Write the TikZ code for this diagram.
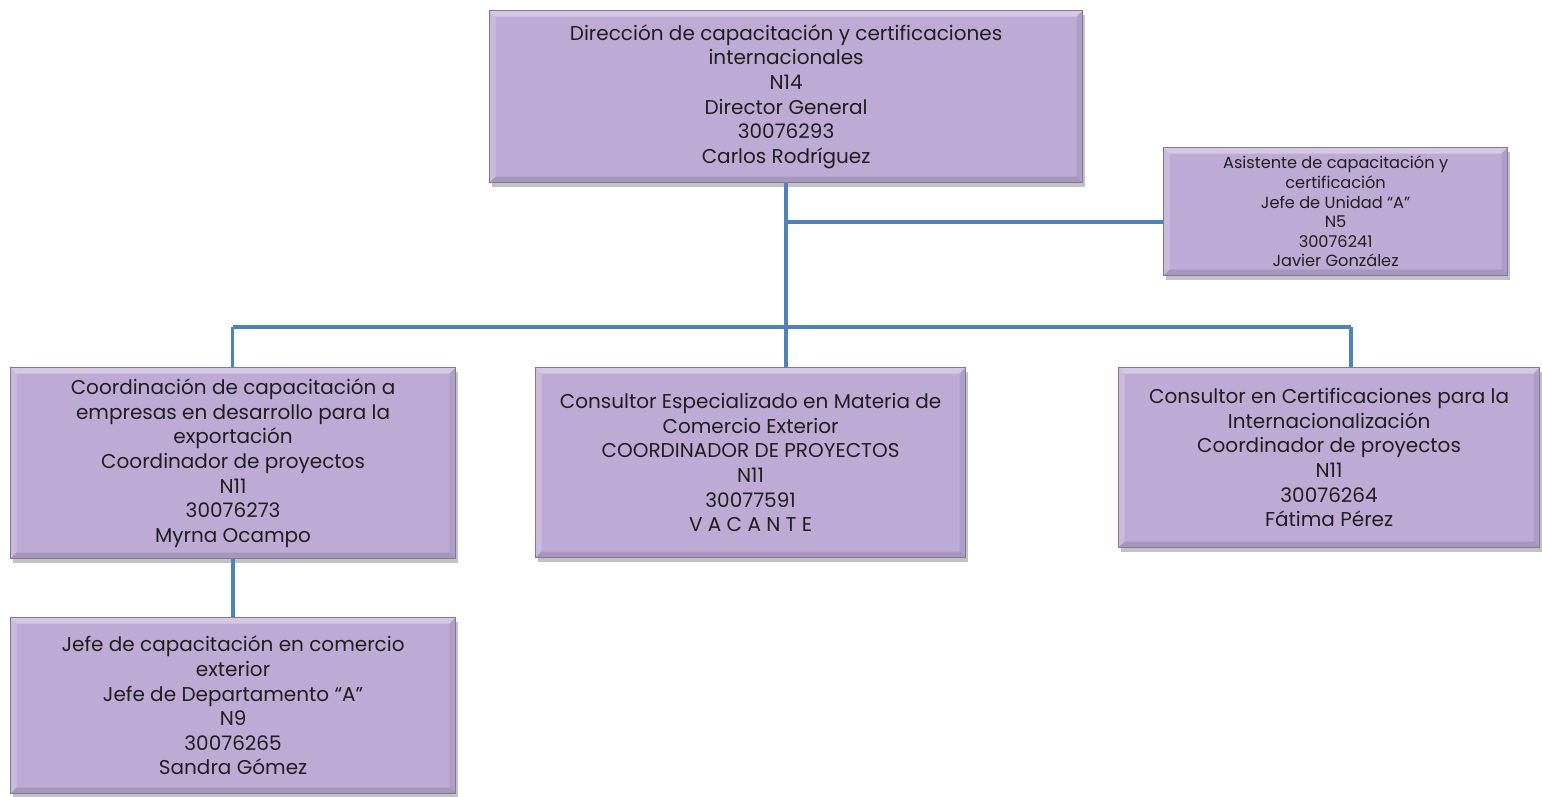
\documentclass[tikz,border=0pt]{standalone}
\usepackage{fontspec}
\setmainfont{Poppins}
\usetikzlibrary{shadows}
\definecolor{boxfill}{RGB}{189,171,213}
\definecolor{boxedge}{RGB}{135,118,155}
\definecolor{linkblue}{RGB}{79,129,189}
\definecolor{inkdark}{RGB}{30,30,30}
\begin{document}
\begin{tikzpicture}[x=1pt,y=-1pt,
  orgbox/.style={draw=boxedge, line width=1.2pt, fill=boxfill, text=inkdark,
    align=center, inner sep=0pt, anchor=north west,
    drop shadow={shadow xshift=2pt, shadow yshift=-4pt, opacity=0.4, fill=black!60},
    path picture={
      % soft bevel: light top and left rims, darker bottom and right rims
      \fill[white, opacity=0.35]
        (path picture bounding box.north west) -- (path picture bounding box.north east)
        -- ([xshift=-6pt,yshift=-6pt]path picture bounding box.north east)
        -- ([xshift=6pt,yshift=-6pt]path picture bounding box.north west) -- cycle;
      \fill[white, opacity=0.2]
        (path picture bounding box.north west) -- ([xshift=6pt,yshift=-6pt]path picture bounding box.north west)
        -- ([xshift=6pt,yshift=6pt]path picture bounding box.south west)
        -- (path picture bounding box.south west) -- cycle;
      \fill[black, opacity=0.12]
        (path picture bounding box.south west) -- (path picture bounding box.south east)
        -- ([xshift=-6pt,yshift=6pt]path picture bounding box.south east)
        -- ([xshift=6pt,yshift=6pt]path picture bounding box.south west) -- cycle;
      \fill[black, opacity=0.08]
        (path picture bounding box.north east) -- ([xshift=-6pt,yshift=-6pt]path picture bounding box.north east)
        -- ([xshift=-6pt,yshift=6pt]path picture bounding box.south east)
        -- (path picture bounding box.south east) -- cycle;
    },
    font=\fontsize{20}{24.6}\selectfont},
  smallbox/.style={orgbox, font=\fontsize{16.2}{19.6}\selectfont},
  link/.style={draw=linkblue, line width=3.6pt}]
  \useasboundingbox (0,0) rectangle (1542,796);

  % director
  \node[orgbox, minimum width=593pt, minimum height=172pt] (dir) at (489,10)
    {Dirección de capacitación y certificaciones\\internacionales\\N14\\Director General\\30076293\\Carlos Rodríguez};

  % assistant
  \node[smallbox, minimum width=344pt, minimum height=128pt] (asst) at (1163,147)
    {Asistente de capacitación y\\certificación\\Jefe de Unidad “A”\\N5\\30076241\\Javier González};

  % second level
  \node[orgbox, minimum width=445pt, minimum height=191pt] (coord) at (10,367)
    {Coordinación de capacitación a\\empresas en desarrollo para la\\exportación\\Coordinador de proyectos\\N11\\30076273\\Myrna Ocampo};
  \node[orgbox, minimum width=430pt, minimum height=190pt] (cext) at (535,367)
    {Consultor Especializado en Materia de\\Comercio Exterior\\COORDINADOR DE PROYECTOS\\N11\\30077591\\V A C A N T E};
  \node[orgbox, minimum width=421pt, minimum height=180pt] (cert) at (1118,367)
    {Consultor en Certificaciones para la\\Internacionalización\\Coordinador de proyectos\\N11\\30076264\\Fátima Pérez};

  % third level
  \node[orgbox, minimum width=445pt, minimum height=176pt] (jefe) at (10,617)
    {Jefe de capacitación en comercio\\exterior\\Jefe de Departamento “A”\\N9\\30076265\\Sandra Gómez};

  % junction points of the connectors
  \coordinate (trunkA) at (786,222);
  \coordinate (trunkB) at (786,327);
  \coordinate (barL) at (232.5,327);
  \coordinate (barR) at (1351,327);

  \draw[link] (dir.south -| trunkA) -- (trunkB) -- (trunkB |- cext.north);
  \draw[link] (trunkA) -- (trunkA -| asst.west);
  \draw[link] (barL) -- (barR);
  \draw[link] (barL) -- (barL |- coord.north);
  \draw[link] (barR) -- (barR |- cert.north);
  \draw[link] (coord.south) -- (jefe.north);
\end{tikzpicture}
\end{document}
